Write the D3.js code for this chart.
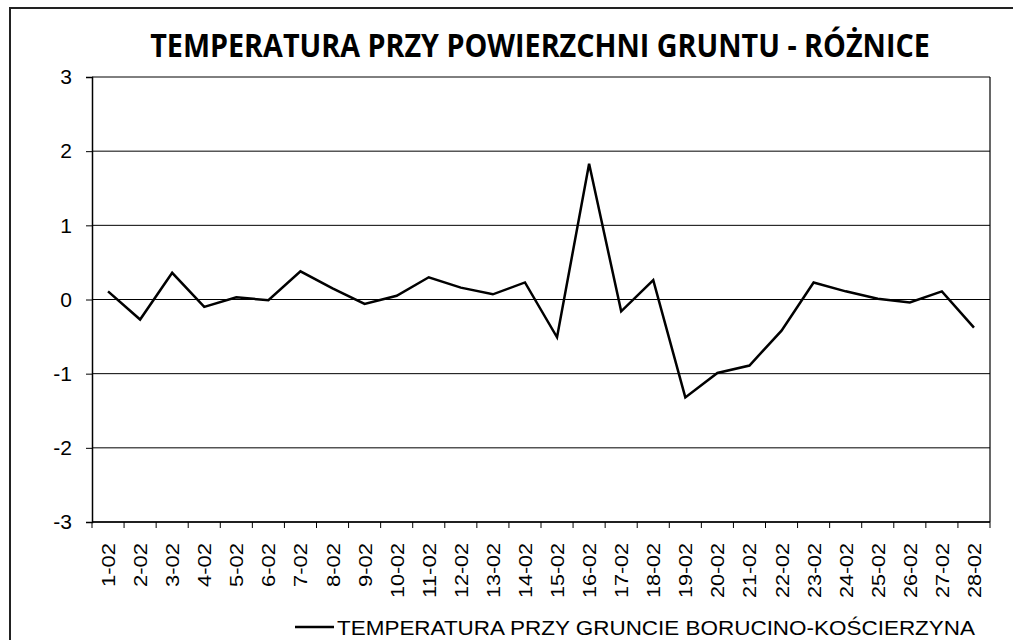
<!DOCTYPE html>
<html>
<head>
<meta charset="utf-8">
<script src="https://cdn.jsdelivr.net/npm/d3@7"></script>
<style>
  body { margin: 0; background: #fff; }
  text { font-family: Arial, "Liberation Sans", sans-serif; }
</style>
</head>
<body>
<div id="chart"></div>
<script>
// chart data
const days = ["1-02","2-02","3-02","4-02","5-02","6-02","7-02","8-02","9-02","10-02",
  "11-02","12-02","13-02","14-02","15-02","16-02","17-02","18-02","19-02","20-02",
  "21-02","22-02","23-02","24-02","25-02","26-02","27-02","28-02"];
const diffs = [0.11, -0.27, 0.36, -0.10, 0.03, -0.01, 0.38, 0.15, -0.06, 0.05,
  0.30, 0.16, 0.07, 0.23, -0.51, 1.83, -0.16, 0.26, -1.32, -0.99,
  -0.89, -0.42, 0.23, 0.11, 0.01, -0.04, 0.11, -0.38];
const yTicks = [-3, -2, -1, 0, 1, 2, 3];
const titleText = "TEMPERATURA PRZY POWIERZCHNI GRUNTU - RÓŻNICE";
const seriesName = "TEMPERATURA PRZY GRUNCIE BORUCINO-KOŚCIERZYNA";

const width = 1013, height = 640;
const plot = { left: 92, right: 990, top: 77, bottom: 522 };

const svg = d3.select("#chart").append("svg")
    .attr("width", width)
    .attr("height", height);

// outer frame
svg.append("rect")
    .attr("x", 10).attr("y", 8)
    .attr("width", 1010).attr("height", 650)
    .attr("fill", "#fff")
    .attr("stroke", "#222")
    .attr("stroke-width", 2);

const x = d3.scaleBand().domain(days).range([plot.left, plot.right]);
const y = d3.scaleLinear().domain([-3, 3]).range([plot.bottom, plot.top]);

// title: squeeze horizontally to the reference width
const title = svg.append("text")
    .attr("text-anchor", "middle")
    .style("font-family", "'Liberation Sans Narrow', 'Open Sans', Arial, sans-serif")
    .style("font-weight", "bold")
    .style("font-size", "33px")
    .text(titleText);
const tw = title.node().getComputedTextLength();
title.attr("transform", `translate(540,57) scale(${780 / tw},1)`);

// gridlines
svg.append("g").selectAll("line").data(yTicks).join("line")
    .attr("x1", plot.left).attr("x2", plot.right)
    .attr("y1", d => y(d)).attr("y2", d => y(d))
    .attr("stroke", "#000").attr("stroke-width", 1);

// right edge of plot
svg.append("line")
    .attr("x1", plot.right).attr("x2", plot.right)
    .attr("y1", plot.top).attr("y2", plot.bottom)
    .attr("stroke", "#000").attr("stroke-width", 1.2);

// y axis
const yAxis = svg.append("g")
    .attr("transform", `translate(${plot.left},0)`)
    .call(d3.axisLeft(y).tickValues(yTicks).tickSize(6).tickPadding(14).tickFormat(d => String(d)));
yAxis.select(".domain").attr("stroke", "#000").attr("stroke-width", 1.5);
yAxis.selectAll("text").style("font-size", "21px").attr("fill", "#000");

// x axis, ticks between categories
const xAxis = svg.append("g")
    .attr("transform", `translate(0,${plot.bottom})`);
xAxis.append("line")
    .attr("x1", plot.left).attr("x2", plot.right)
    .attr("stroke", "#000").attr("stroke-width", 1.5);
const boundaries = days.map(d => x(d)).concat([plot.right]);
xAxis.selectAll("line.tick").data(boundaries).join("line")
    .attr("class", "tick")
    .attr("x1", d => d).attr("x2", d => d)
    .attr("y1", 0).attr("y2", 6)
    .attr("stroke", "#000");
xAxis.selectAll("text").data(days).join("text")
    .attr("transform", d => `translate(${x(d) + x.bandwidth() / 2 + 7},21) rotate(-90)`)
    .attr("text-anchor", "end")
    .attr("textLength", d => d.length * 11)
    .attr("lengthAdjust", "spacingAndGlyphs")
    .style("font-size", "19px")
    .text(d => d);

// series line
const line = d3.line()
    .x((d, i) => x(days[i]) + x.bandwidth() / 2)
    .y(d => y(d));
svg.append("path")
    .datum(diffs)
    .attr("d", line)
    .attr("fill", "none")
    .attr("stroke", "#000")
    .attr("stroke-width", 2.5)
    .attr("stroke-linejoin", "miter");

// legend
svg.append("line")
    .attr("x1", 295).attr("x2", 334)
    .attr("y1", 627).attr("y2", 627)
    .attr("stroke", "#000").attr("stroke-width", 2.5);
svg.append("text")
    .attr("x", 337).attr("y", 635)
    .attr("textLength", 638)
    .attr("lengthAdjust", "spacingAndGlyphs")
    .style("font-size", "21px")
    .text(seriesName);
</script>
</body>
</html>
